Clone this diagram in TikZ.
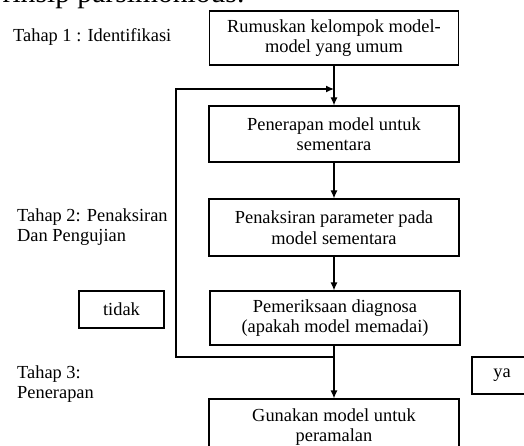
\documentclass[tikz,border=0pt]{standalone}
\usepackage{fontspec}
\setmainfont{Liberation Serif}
\usetikzlibrary{arrows.meta}

\begin{document}
\begin{tikzpicture}[x=1pt,y=-1pt,
        every node/.style={font=\fontsize{18.4}{20.5}\selectfont},
        proc/.style={draw,line width=1.2pt,align=center,inner sep=0pt,
            minimum width=250pt,minimum height=56pt},
        tag/.style={draw,line width=1.2pt,inner sep=0pt,minimum height=37pt},
        arr/.style={line width=1.2pt,-{Latex[length=8pt,width=7pt]}}]
        \useasboundingbox (0,0) rectangle (524,446);
        \clip (0,0) rectangle (524,446);

        %text above the chart
        \node[anchor=base west,inner sep=0pt,font=\fontsize{29.6}{33}\selectfont]
            (parsi) at (-14,2.5) {Prinsip parsimonious.};

        %stages
        \node[anchor=west,inner sep=0pt] (stage1) at (13,37) {Tahap 1 : Identifikasi};
        \node[anchor=west,inner sep=0pt,align=left] (stage2) at (17,227)
            {Tahap 2: Penaksiran\\Dan Pengujian};
        \node[anchor=west,inner sep=0pt,align=left] (stage3) at (17,384)
            {Tahap 3:\\Penerapan};

        %boxes
        \node[proc,minimum width=249pt,minimum height=54pt] (rumus) at (334,38)
            {Rumuskan kelompok model-\\model yang umum};
        \node[proc] (terap) at (334,134) {Penerapan model untuk\\sementara};
        \node[proc,minimum height=57pt] (taksir) at (334,227.5)
            {Penaksiran parameter pada\\model sementara};
        \node[proc,minimum height=54pt] (periksa) at (335,318)
            {Pemeriksaan diagnosa\\(apakah model memadai)};
        \node[proc] (guna) at (334,427) {Gunakan model untuk\\peramalan};

        %answers
        \node[tag,minimum width=85pt] (tidak) at (121.5,309.5) {tidak};
        \node[tag,minimum width=60pt] (ya) at (502,375.5) {ya};

        %forward arrows
        \draw[arr] (rumus.south -| 334,0) -- (terap.north -| 334,0);
        \draw[arr] (terap.south -| 334,0) -- (taksir.north -| 334,0);
        \draw[arr] (taksir.south -| 334,0) -- (periksa.north -| 334,0);
        \draw[arr] (periksa.south -| 334,0) -- (guna.north -| 334,0);

        %loop back
        \coordinate (back) at (176,357);
        \coordinate (up) at (176,89);
        \coordinate (join) at (334,89);
        \draw[arr] (back -| 334,0) -- (back) -- (up) -- (join);
    \end{tikzpicture}
\end{document}
